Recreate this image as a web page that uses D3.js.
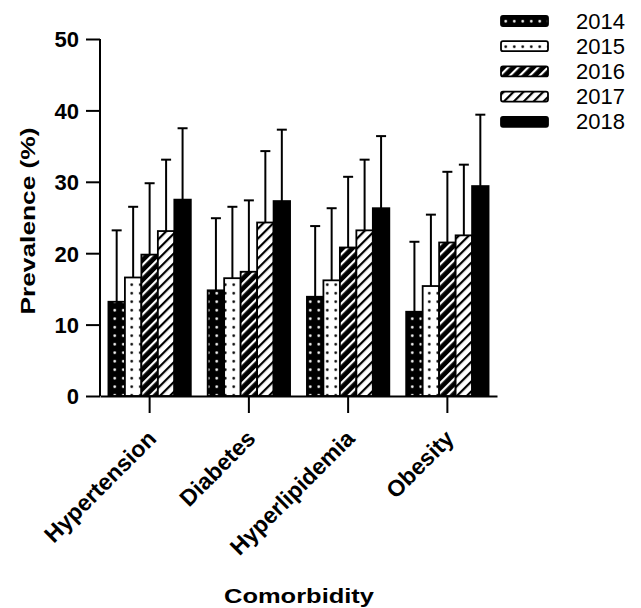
<!DOCTYPE html>
<html><head><meta charset="utf-8">
<script src="https://cdn.jsdelivr.net/npm/d3@7"></script>
<style>body{margin:0;background:#fff}svg{display:block;font-family:"Liberation Sans",Arial,sans-serif}</style>
</head><body>
<script>
const categories = ["Hypertension","Diabetes","Hyperlipidemia","Obesity"];
const years = ["2014","2015","2016","2017","2018"];
const means = {
  "2014": [13.2, 14.8, 13.9, 11.8],
  "2015": [16.6, 16.5, 16.2, 15.4],
  "2016": [19.8, 17.4, 20.8, 21.5],
  "2017": [23.1, 24.3, 23.2, 22.5],
  "2018": [27.5, 27.3, 26.3, 29.4]
};
const sds = {
  "2014": [10.0, 10.1, 9.9, 9.8],
  "2015": [9.9, 10.0, 10.1, 10.0],
  "2016": [10.0, 10.0, 9.9, 9.9],
  "2017": [10.0, 10.0, 9.9, 9.9],
  "2018": [10.0, 10.0, 10.1, 10.0]
};
const yTicks = [0,10,20,30,40,50];

const W=641,H=608;
const FONT="Liberation Sans, Arial, sans-serif";
const svg=d3.select("body").append("svg").attr("width",W).attr("height",H);
const defs=svg.append("defs");
function dots(id,bg,fg){
  const p=defs.append("pattern").attr("id",id).attr("patternUnits","userSpaceOnUse").attr("width",8.5).attr("height",8.5);
  p.append("rect").attr("width",8.5).attr("height",8.5).attr("fill",bg);
  p.append("circle").attr("cx",4.25).attr("cy",4.25).attr("r",1.3).attr("fill",fg);
}
function stripes(id,bg,fg){
  const p=defs.append("pattern").attr("id",id).attr("patternUnits","userSpaceOnUse").attr("width",7).attr("height",7).attr("patternTransform","rotate(45)");
  p.append("rect").attr("width",7).attr("height",7).attr("fill",bg);
  p.append("rect").attr("x",0).attr("y",0).attr("width",2.2).attr("height",7).attr("fill",fg);
}
dots("p2014","#000","#fff");
dots("p2015","#fff","#000");
stripes("p2016","#000","#fff");
stripes("p2017","#fff","#000");
const fills={"2014":"url(#p2014)","2015":"url(#p2015)","2016":"url(#p2016)","2017":"url(#p2017)","2018":"#000"};

const x0=100,x1=497,yTop=39,yBot=396;
const x=d3.scaleBand().domain(categories).range([x0,x1]).paddingInner(0.17).paddingOuter(0.085);
const xi=d3.scaleBand().domain(years).range([0,x.bandwidth()]);
const y=d3.scaleLinear().domain([0,50]).range([yBot,yTop]);

const g=svg.append("g");
categories.forEach((c,ci)=>{
  years.forEach(yr=>{
    const bx=x(c)+xi(yr), bw=xi.bandwidth(), v=means[yr][ci], e=sds[yr][ci];
    const cx=bx+bw/2;
    g.append("line").attr("x1",cx).attr("x2",cx).attr("y1",y(v)).attr("y2",y(v+e)).attr("stroke","#000").attr("stroke-width",2);
    g.append("line").attr("x1",cx-5).attr("x2",cx+5).attr("y1",y(v+e)).attr("y2",y(v+e)).attr("stroke","#000").attr("stroke-width",2);
    g.append("rect").attr("x",bx).attr("y",y(v)).attr("width",bw).attr("height",yBot-y(v)).attr("fill",fills[yr]).attr("stroke","#000").attr("stroke-width",1.8);
  });
});

// axes
const ya=svg.append("g").attr("transform",`translate(${x0},0)`).call(d3.axisLeft(y).tickValues(yTicks).tickSize(14).tickPadding(7));
ya.select(".domain").attr("stroke-width",2).attr("d",`M0,${yTop}V${yBot}`);
ya.selectAll(".tick line").attr("stroke-width",2);
ya.selectAll("text").attr("font-size",22).attr("font-weight","bold").attr("font-family",FONT).attr("fill","#000").attr("dy","0.36em");

const xa=svg.append("g").attr("transform",`translate(0,${yBot})`).call(d3.axisBottom(x).tickSize(17).tickSizeOuter(0));
xa.select(".domain").attr("stroke-width",2);
xa.selectAll(".tick line").attr("stroke-width",2);
xa.selectAll("text").attr("font-size",23).attr("font-weight","bold").attr("font-family",FONT).attr("fill","#000")
  .attr("text-anchor","end").attr("dy",0).attr("y",0)
  .attr("transform","translate(8,44) rotate(-45)");

svg.append("text").attr("x",299).attr("y",603).attr("text-anchor","middle").attr("font-size",21).attr("font-weight","bold")
  .attr("textLength",150).attr("lengthAdjust","spacingAndGlyphs").text("Comorbidity");
svg.append("text").attr("transform",`translate(35,221) rotate(-90)`).attr("text-anchor","middle").attr("font-size",21).attr("font-weight","bold")
  .attr("textLength",187).attr("lengthAdjust","spacingAndGlyphs").text("Prevalence (%)");

// legend
const lg=svg.append("g");
years.forEach((yr,i)=>{
  const cy=21+i*25.2;
  lg.append("rect").attr("x",501).attr("y",cy-5).attr("width",47).attr("height",10).attr("rx",2).attr("fill",fills[yr]).attr("stroke","#000").attr("stroke-width",1.8);
  lg.append("text").attr("x",576).attr("y",cy+7.5).attr("font-size",22).text(yr);
});
</script>
</body></html>
